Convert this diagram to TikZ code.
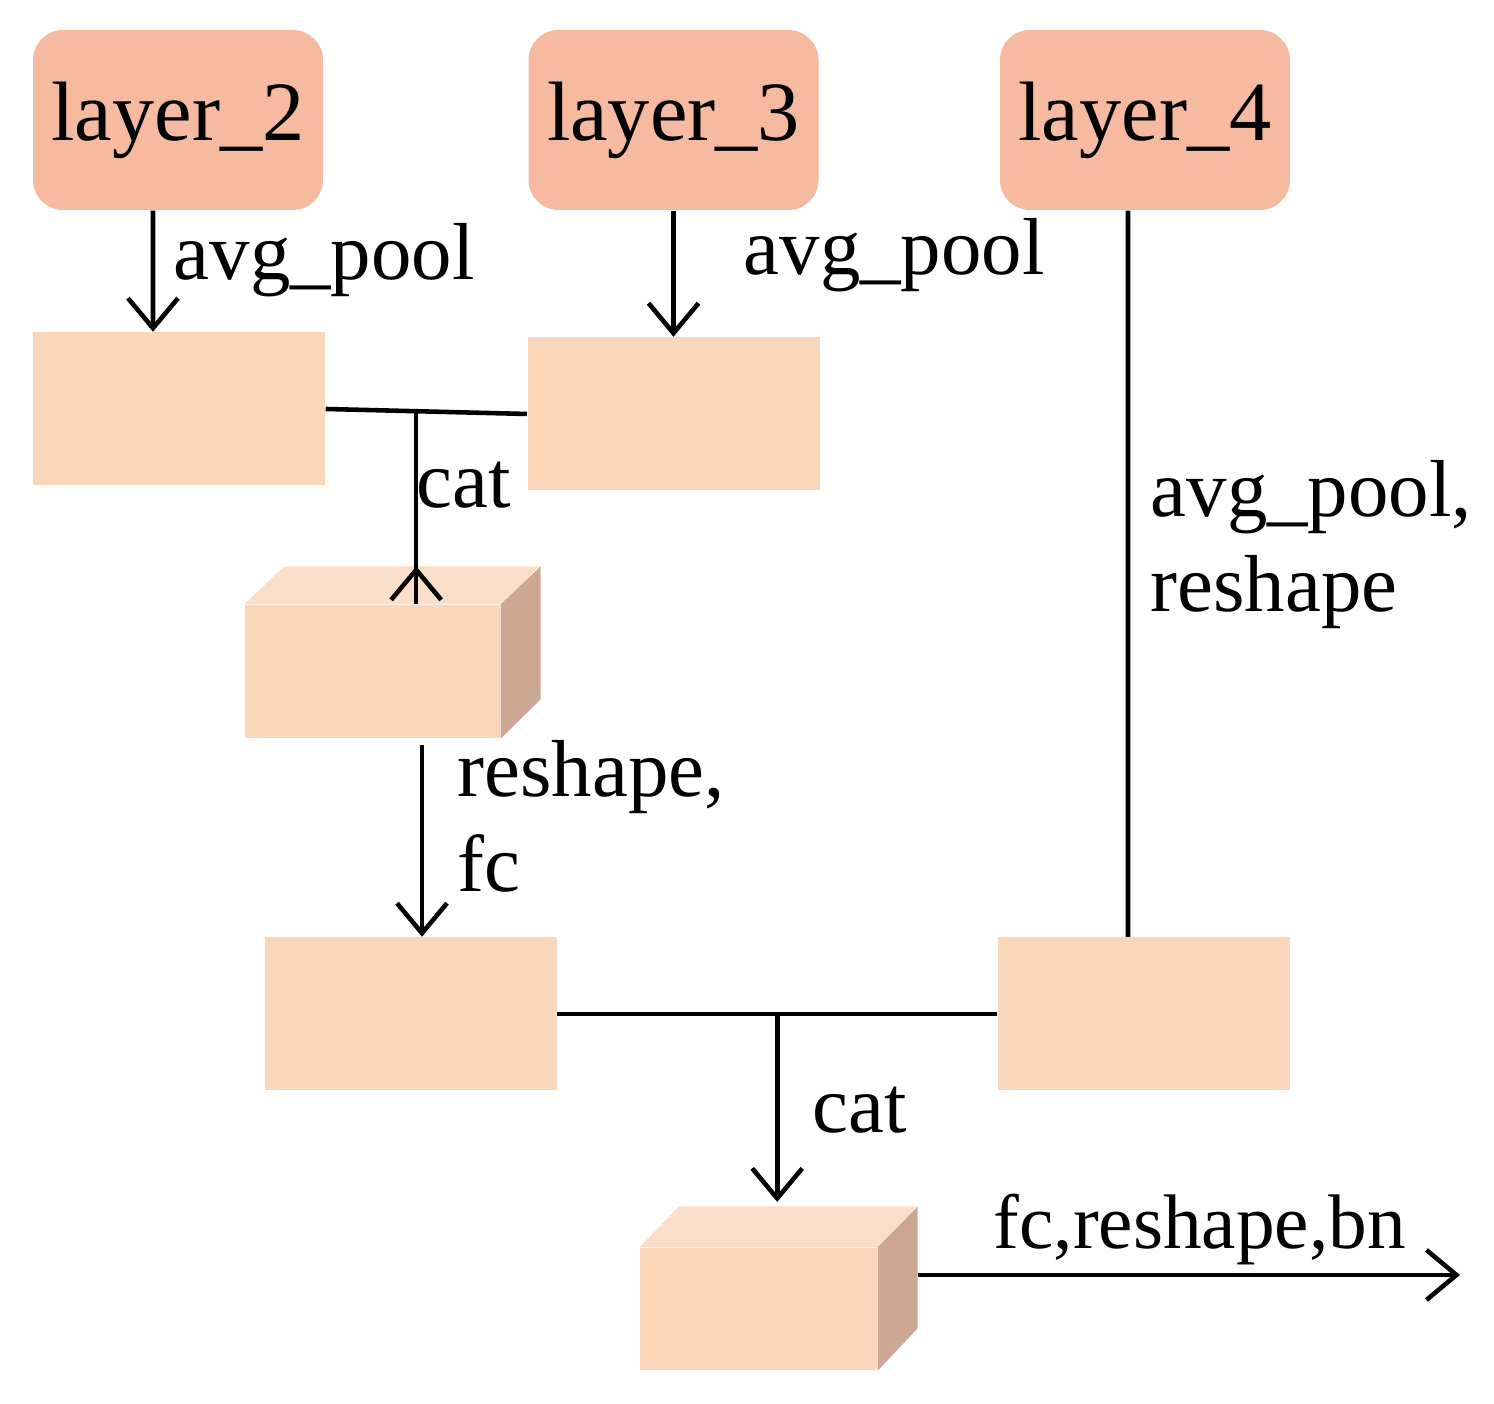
\documentclass[tikz,border=0pt]{standalone}
\usepackage{fontspec}
\setmainfont{Liberation Serif}
\usetikzlibrary{positioning,calc,arrows.meta}
\definecolor{layercol}{RGB}{246,186,160}
\definecolor{featcol}{RGB}{250,214,186}
\definecolor{cubetop}{RGB}{250,222,200}
\definecolor{cubeside}{RGB}{204,168,146}
\tikzset{
  layer/.style={fill=layercol,draw=none,rounded corners=0.3cm,minimum width=2.9cm,minimum height=1.8cm,font=\fontsize{24}{28}\selectfont},
  feat/.style={fill=featcol,draw=none,minimum width=2.92cm,minimum height=1.53cm},
  lbl/.style={font=\fontsize{23}{27}\selectfont,align=left,inner sep=0pt},
  flow/.style={line width=1.3pt,-{Straight Barb[length=3mm,width=5mm]}},
  link/.style={line width=1.3pt}
}
\begin{document}
\begin{tikzpicture}
  \useasboundingbox (0,0) rectangle (14.94,14.04);
  % layers
  \node[layer] (l2) at (1.78,12.84) {layer\_2};
  \node[layer] (l3) at (6.735,12.84) {layer\_3};
  \node[layer] (l4) at (11.45,12.84) {layer\_4};
  % pooled features
  \node[feat] (fa) at (1.79,9.95) {};
  \node[feat] (fb) at (6.735,9.90) {};
  \node[feat] (fc) at (4.105,3.90) {};
  \node[feat] (fd) at (11.44,3.90) {};
  % first cube
  \node[feat,minimum width=2.55cm,minimum height=1.33cm] (c1) at (3.725,7.325) {};
  \fill[cubetop] (c1.north west) -- ++(0.4,0.38) -- ++(2.55,0) -- (c1.north east) -- cycle;
  \fill[cubeside] (c1.north east) -- ++(0.4,0.38) -- ++(0,-1.33) -- (c1.south east) -- cycle;
  % second cube
  \node[feat,minimum width=2.37cm,minimum height=1.22cm] (c2) at (7.585,0.95) {};
  \fill[cubetop] (c2.north west) -- ++(0.4,0.41) -- ++(2.37,0) -- (c2.north east) -- cycle;
  \fill[cubeside] (c2.north east) -- ++(0.4,0.41) -- ++(0,-1.22) -- (c2.south east) -- cycle;
  % connectors
  \draw[flow] ([xshift=-0.25cm]l2.south) -- ([xshift=-0.26cm]fa.north);
  \node[lbl,anchor=west] (t1) at (1.73,11.44) {avg\_pool};
  \draw[flow] (l3.south) -- (fb.north);
  \node[lbl,anchor=west] (t2) at (7.43,11.49) {avg\_pool};
  \draw[link] (fa.east) -- (fb.west) coordinate[pos=0.45] (m1);
  \draw[flow] (m1) -- (c1.north -| m1) ++(0,0.38);
  \node[lbl,anchor=west] (t3) at (4.16,9.19) {cat};
  \draw[flow] (4.22,6.59) coordinate (s1) -- (fc.north -| s1);
  \node[lbl,anchor=north west] (t4) at (4.57,6.64) {reshape,\\fc};
  \draw[link] ([xshift=-0.17cm]l4.south) -- ([xshift=-0.16cm]fd.north);
  \node[lbl,anchor=north west] (t5) at (11.5,9.44) {avg\_pool,\\reshape};
  \draw[link] (fc.east) -- (fd.west) coordinate[pos=0.5] (m2);
  \draw[flow] (m2) -- ++(0,-1.88);
  \node[lbl,anchor=west] (t6) at (8.12,2.94) {cat};
  \coordinate (out) at (14.6,1.29);
  \draw[flow] (c2.east |- out) ++(0.4,0) -- (out);
  \node[lbl,anchor=west,font=\fontsize{22}{26}\selectfont] (t7) at (9.93,1.74) {fc,reshape,bn};
\end{tikzpicture}
\end{document}
